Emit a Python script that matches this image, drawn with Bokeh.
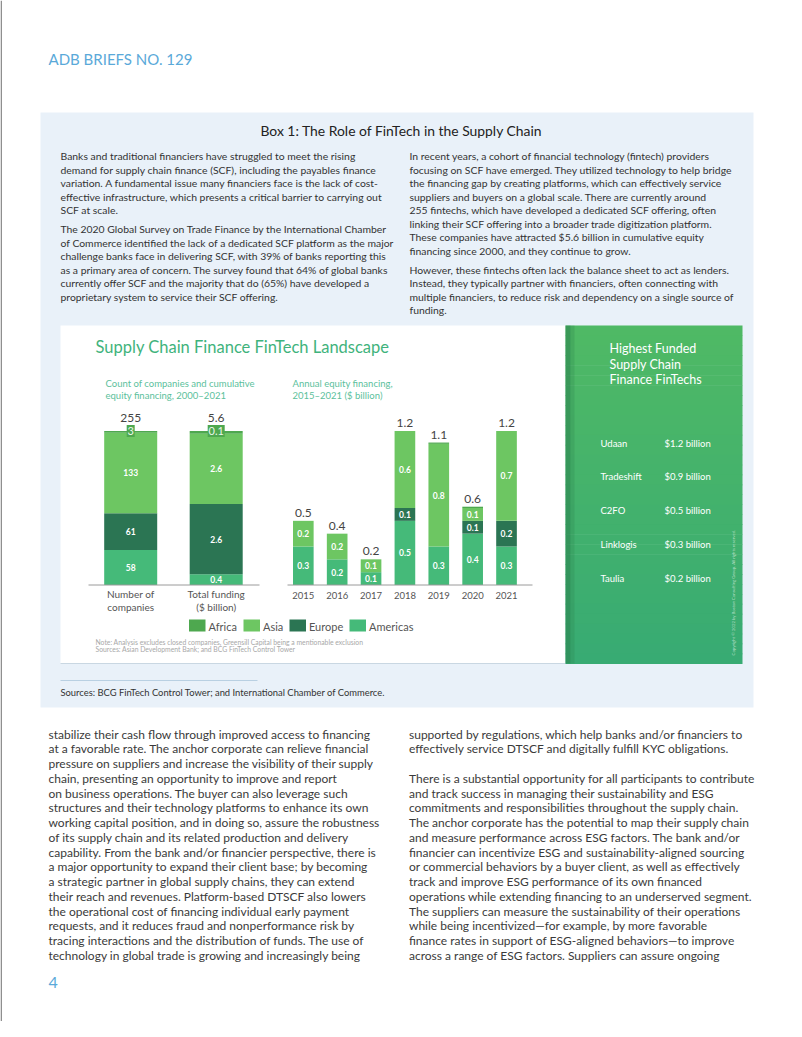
import numpy as np
from bokeh.plotting import figure
from bokeh.models import Range1d, ColumnDataSource
from bokeh.core.properties import value
from bokeh.embed import file_html
from bokeh.resources import INLINE

# ---------------- data ----------------
regions = ["Americas", "Europe", "Asia", "Africa"]          # stack order, bottom -> top
region_colors = ["#45ba79", "#2b7553", "#6dc662", "#4ea84f"]
legend_regions = ["Africa", "Asia", "Europe", "Americas"]

left_labels_line1 = ["Number of", "Total funding"]
left_labels_line2 = ["companies", "($ billion)"]
company_counts = [58, 61, 133, 3]            # Americas, Europe, Asia, Africa
company_total_label = "255"
cumulative_funding = [0.4, 2.6, 2.6, 0.1]    # $ billion
funding_total_label = "5.6"

years = [2015, 2016, 2017, 2018, 2019, 2020, 2021]
annual_americas = [0.3, 0.2, 0.1, 0.5, 0.3, 0.4, 0.3]
annual_europe = [0.0, 0.0, 0.0, 0.1, 0.0, 0.1, 0.2]
annual_asia = [0.2, 0.2, 0.1, 0.6, 0.8, 0.1, 0.7]
annual_africa = [0.0, 0.0, 0.0, 0.0, 0.01, 0.01, 0.0]
annual_total_labels = ["0.5", "0.4", "0.2", "1.2", "1.1", "0.6", "1.2"]

top_fintechs = ["Udaan", "Tradeshift", "C2FO", "Linklogis", "Taulia"]
top_fintech_funding = ["$1.2 billion", "$0.9 billion", "$0.5 billion", "$0.3 billion", "$0.2 billion"]

box_left_p1 = [
    "Banks and traditional financiers have struggled to meet the rising",
    "demand for supply chain finance (SCF), including the payables finance",
    "variation. A fundamental issue many financiers face is the lack of cost-",
    "effective infrastructure, which presents a critical barrier to carrying out",
    "SCF at scale.",
]
box_left_p2 = [
    "The 2020 Global Survey on Trade Finance by the International Chamber",
    "of Commerce identified the lack of a dedicated SCF platform as the major",
    "challenge banks face in delivering SCF, with 39% of banks reporting this",
    "as a primary area of concern. The survey found that 64% of global banks",
    "currently offer SCF and the majority that do (65%) have developed a",
    "proprietary system to service their SCF offering.",
]
box_right_p1 = [
    "In recent years, a cohort of financial technology (fintech) providers",
    "focusing on SCF have emerged. They utilized technology to help bridge",
    "the financing gap by creating platforms, which can effectively service",
    "suppliers and buyers on a global scale. There are currently around",
    "255 fintechs, which have developed a dedicated SCF offering, often",
    "linking their SCF offering into a broader trade digitization platform.",
    "These companies have attracted $5.6 billion in cumulative equity",
    "financing since 2000, and they continue to grow.",
]
box_right_p2 = [
    "However, these fintechs often lack the balance sheet to act as lenders.",
    "Instead, they typically partner with financiers, often connecting with",
    "multiple financiers, to reduce risk and dependency on a single source of",
    "funding.",
]
body_left = [
    "stabilize their cash flow through improved access to financing",
    "at a favorable rate. The anchor corporate can relieve financial",
    "pressure on suppliers and increase the visibility of their supply",
    "chain, presenting an opportunity to improve and report",
    "on business operations. The buyer can also leverage such",
    "structures and their technology platforms to enhance its own",
    "working capital position, and in doing so, assure the robustness",
    "of its supply chain and its related production and delivery",
    "capability. From the bank and/or financier perspective, there is",
    "a major opportunity to expand their client base; by becoming",
    "a strategic partner in global supply chains, they can extend",
    "their reach and revenues. Platform-based DTSCF also lowers",
    "the operational cost of financing individual early payment",
    "requests, and it reduces fraud and nonperformance risk by",
    "tracing interactions and the distribution of funds. The use of",
    "technology in global trade is growing and increasingly being",
]
body_right = [
    "supported by regulations, which help banks and/or financiers to",
    "effectively service DTSCF and digitally fulfill KYC obligations.",
    "",
    "There is a substantial opportunity for all participants to contribute",
    "and track success in managing their sustainability and ESG",
    "commitments and responsibilities throughout the supply chain.",
    "The anchor corporate has the potential to map their supply chain",
    "and measure performance across ESG factors. The bank and/or",
    "financier can incentivize ESG and sustainability-aligned sourcing",
    "or commercial behaviors by a buyer client, as well as effectively",
    "track and improve ESG performance of its own financed",
    "operations while extending financing to an underserved segment.",
    "The suppliers can measure the sustainability of their operations",
    "while being incentivized\u2014for example, by more favorable",
    "finance rates in support of ESG-aligned behaviors\u2014to improve",
    "across a range of ESG factors. Suppliers can assure ongoing",
]

# ---------------- page figure ----------------
X0, Y0 = 0, 0
W, H = 786, 1021
FONT = value("Lato")

p = figure(width=W, height=H, x_range=Range1d(X0, X0 + W), y_range=Range1d(Y0 + H, Y0),
           output_backend="svg", toolbar_location=None, min_border=0,
           x_axis_location=None, y_axis_location=None,
           background_fill_color="white", border_fill_color="white", outline_line_color=None)
p.xgrid.visible = False
p.ygrid.visible = False


def yrange(v0, p0, k):
    s = v0 - (Y0 + H - p0) / k
    return Range1d(s, s + H / k)


def xrange(v0, p0, k):
    s = v0 - (p0 - X0) / k
    return Range1d(s, s + W / k)


BASE = 584.5
BAR_PX = 154.0
p.extra_y_ranges = {
    "cnt": yrange(0, BASE, BAR_PX / sum(company_counts)),
    "fund": yrange(0, BASE, BAR_PX / sum(cumulative_funding)),
    "ann": yrange(0, BASE, BAR_PX / 1.2),
}
p.extra_x_ranges = {
    "lx": xrange(0, 130.2, 85.5),
    "yr": xrange(2015, 302.8, 33.87),
}


def txt(xs, ys, texts, size, color, align="left", baseline="middle", style="normal", **kw):
    p.text(x=xs, y=ys, text=texts, text_font=FONT, text_font_size=f"{size}px",
           text_color=color, text_align=align, text_baseline=baseline,
           text_font_style=style, **kw)


# page border (left edge)
p.segment(x0=[0.7], x1=[0.7], y0=[0], y1=[H], line_color="#8a8a8a", line_width=1.5)

# header
txt([48], [58], ["ADB BRIEFS NO. 129"], 15, "#5aa9d9")

# box background
p.quad(left=[40], right=[753], top=[112], bottom=[707], fill_color="#e9f1f9", line_color=None)
txt([401], [129.5], ["Box 1: The Role of FinTech in the Supply Chain"], 13.9, "#222222", align="center")

LS = 13.5
PGAP = 5.5
def para(x, y0, lines):
    ys = [y0 + i * LS for i in range(len(lines))]
    txt([x] * len(lines), ys, lines, 10.4, "#333333")
    return ys[-1]

last = para(60, 155.5, box_left_p1)
para(60, last + LS + PGAP, box_left_p2)
last = para(409, 155.5, box_right_p1)
para(409, last + LS + PGAP, box_right_p2)

# chart white panel + green panel
p.quad(left=[60], right=[565], top=[325], bottom=[663], fill_color="white", line_color=None)
p.segment(x0=[60], x1=[565], y0=[663], y1=[663], line_color="#c9d7e2", line_width=1.2)
# green panel with a soft vertical gradient (decorative)
top_c = np.array([0x4f, 0xb9, 0x65])
bot_c = np.array([0x38, 0xab, 0x73])
n_bands = 34
edges = np.linspace(325, 663, n_bands + 1)
band_cols = ["#%02x%02x%02x" % tuple(int(round(c)) for c in top_c + (bot_c - top_c) * t)
             for t in np.linspace(0, 1, n_bands)]
p.quad(left=[565] * n_bands, right=[742] * n_bands, top=list(edges[:-1]), bottom=list(edges[1:] + 0.6),
       fill_color=band_cols, line_color=None)
p.quad(left=[565], right=[570], top=[325], bottom=[663], fill_color="#2a7f4c", fill_alpha=0.55, line_color=None)
p.quad(left=[570], right=[574], top=[325], bottom=[663], fill_color="#2a7f4c", fill_alpha=0.25, line_color=None)

txt([95], [346], ["Supply Chain Finance FinTech Landscape"], 16.5, "#3fb37c")
txt([105, 105], [382.5, 395], ["Count of companies and cumulative", "equity financing, 2000\u20132021"], 9.5, "#5cbf9c")
txt([292, 292], [382.5, 395], ["Annual equity financing,", "2015\u20132021 ($ billion)"], 9.5, "#5cbf9c")

# ---- left stacked bars ----
src_cnt = ColumnDataSource(dict(x=[0], **{r: [v] for r, v in zip(regions, company_counts)}))
p.vbar_stack(regions, x="x", width=0.62, color=region_colors, line_color=None,
             source=src_cnt, x_range_name="lx", y_range_name="cnt")
src_fund = ColumnDataSource(dict(x=[1], **{r: [v] for r, v in zip(regions, cumulative_funding)}))
p.vbar_stack(regions, x="x", width=0.62, color=region_colors, line_color=None,
             source=src_fund, x_range_name="lx", y_range_name="fund")

cnt_top = np.cumsum(company_counts)
cnt_mid = cnt_top - np.array(company_counts) / 2
txt([0, 0, 0], list(cnt_mid[:3]), [str(v) for v in company_counts[:3]], 8.5, "white",
    align="center", style="bold", x_range_name="lx", y_range_name="cnt")
fund_top = np.cumsum(cumulative_funding)
fund_mid = fund_top - np.array(cumulative_funding) / 2
txt([1, 1, 1], list(fund_mid[:3]), [f"{v:.1f}" for v in cumulative_funding[:3]], 8.5, "white",
    align="center", style="bold", x_range_name="lx", y_range_name="fund")

# Africa call-out boxes on top of bars
p.rect(x=[0], y=[cnt_top[-1]], width=8, height=12, width_units="screen", height_units="screen",
       fill_color=region_colors[3], line_color=None, x_range_name="lx", y_range_name="cnt")
txt([0], [cnt_top[-1]], [str(company_counts[3])], 11, "#eaf6ea", align="center",
    x_range_name="lx", y_range_name="cnt")
p.rect(x=[1], y=[fund_top[-1]], width=17, height=12, width_units="screen", height_units="screen",
       fill_color=region_colors[3], line_color=None, x_range_name="lx", y_range_name="fund")
txt([1], [fund_top[-1]], [f"{cumulative_funding[3]:.1f}"], 11, "#eaf6ea", align="center",
    x_range_name="lx", y_range_name="fund")

txt([0], [cnt_top[-1]], [company_total_label], 12, "#444444", align="center",
    x_range_name="lx", y_range_name="cnt", y_offset=-13)
txt([1], [fund_top[-1]], [funding_total_label], 12, "#444444", align="center",
    x_range_name="lx", y_range_name="fund", y_offset=-13)

p.segment(x0=[88], x1=[259], y0=[BASE], y1=[BASE], line_color="#9a9a9a", line_width=1)
txt([0, 1], [593.5, 593.5], left_labels_line1, 10, "#555555", align="center", x_range_name="lx")
txt([0, 1], [606.5, 606.5], left_labels_line2, 10, "#555555", align="center", x_range_name="lx")

# ---- annual stacked bars ----
annual = {"Americas": annual_americas, "Europe": annual_europe, "Asia": annual_asia, "Africa": annual_africa}
src_ann = ColumnDataSource(dict(x=years, **annual))
p.vbar_stack(regions, x="x", width=0.61, color=region_colors, line_color=None,
             source=src_ann, x_range_name="yr", y_range_name="ann")

lx, ly, lt = [], [], []
tops = np.zeros(len(years))
for r in regions:
    vals = np.array(annual[r])
    mids = tops + vals / 2
    for yr, v, m in zip(years, vals, mids):
        if v >= 0.05:
            lx.append(yr); ly.append(m); lt.append(f"{v:.1f}")
    tops = tops + vals
txt(lx, ly, lt, 8.5, "white", align="center", style="bold", x_range_name="yr", y_range_name="ann")
txt(years, list(tops), annual_total_labels, 12, "#444444", align="center",
    x_range_name="yr", y_range_name="ann", y_offset=-8)
p.segment(x0=[287], x1=[532], y0=[BASE], y1=[BASE], line_color="#9a9a9a", line_width=1)
txt(years, [595] * len(years), [str(y) for y in years], 9.5, "#555555", align="center", x_range_name="yr")

# ---- legend ----
leg_x = [188.5, 243, 289, 349]
leg_colors = [region_colors[regions.index(r)] for r in legend_regions]
p.quad(left=leg_x, right=[x + 16.5 for x in leg_x], top=[619] * 4, bottom=[631] * 4,
       fill_color=leg_colors, line_color=None)
txt([x + 19.5 for x in leg_x], [625.5] * 4, legend_regions, 11, "#555555")

txt([95, 95], [641.5, 648.5],
    ["Note: Analysis excludes closed companies, Greensill Capital being a mentionable exclusion",
     "Sources: Asian Development Bank; and BCG FinTech Control Tower"], 6.8, "#a8a8a8")

# ---- green panel ----
txt([609, 609, 609], [348, 363.5, 379], ["Highest Funded", "Supply Chain", "Finance FinTechs"], 12.5, "white")
row_y = [442.5, 475.5, 509.5, 544, 577.5]
txt([600] * 5, row_y, top_fintechs, 9.5, "white")
txt([664] * 5, row_y, top_fintech_funding, 9.5, "white")
txt([733], [592], ["Copyright \u00a9 2022 by Boston Consulting Group. All rights reserved."], 4.3,
    "white", align="center", angle=np.pi / 2, text_alpha=0.6)

# ---- box sources ----
p.segment(x0=[60], x1=[257], y0=[680], y1=[680], line_color="#b9d0e2", line_width=1)
txt([60], [692], ["Sources: BCG FinTech Control Tower; and International Chamber of Commerce."], 9.4, "#333333")

# ---- body text ----
BLS = 14.75
BFS = 12
ys = [733.5 + i * BLS for i in range(len(body_left))]
txt([48] * len(body_left), ys, body_left, BFS, "#3a3a3a")
rx, ry, rt = [], [], []
for i, line in enumerate(body_right):
    if line:
        rx.append(408.5); ry.append(733.5 + i * BLS); rt.append(line)
txt(rx, ry, rt, BFS, "#3a3a3a")

txt([48], [982], ["4"], 16, "#5aa9d9")

open("out.html", "w").write(file_html(p, INLINE))
